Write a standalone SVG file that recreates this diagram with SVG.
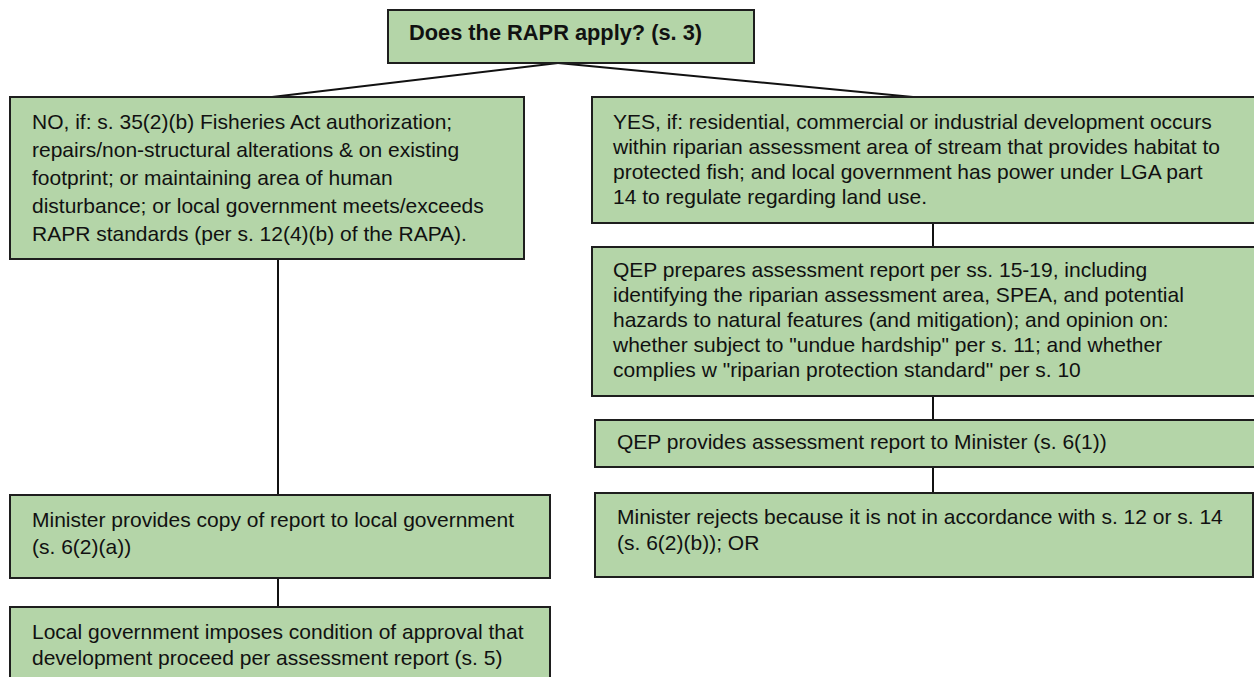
<svg xmlns="http://www.w3.org/2000/svg" width="1254" height="677" viewBox="0 0 1254 677">
<style>
.box{fill:#b4d5a8;stroke:#1e1e1e;stroke-width:2}
.t{font-family:"Liberation Sans",Arial,sans-serif;font-size:21px;fill:#111}
.b{font-weight:bold;font-size:21.8px}
.c{stroke:#111;stroke-width:2;fill:none}
</style>
<rect width="1254" height="677" fill="#fff"/>
<g id="connectors">
<line class="c" x1="558" y1="63" x2="272" y2="97"/>
<line class="c" x1="558" y1="63" x2="913" y2="97"/>
<line class="c" x1="278" y1="259" x2="278" y2="495"/>
<line class="c" x1="278" y1="578" x2="278" y2="607"/>
<line class="c" x1="933" y1="223" x2="933" y2="247"/>
<line class="c" x1="933" y1="396" x2="933" y2="420"/>
<line class="c" x1="933" y1="467" x2="933" y2="493"/>
</g>
<g id="n-top">
<rect class="box" x="388" y="10" width="366" height="53"/>
<text class="t b" x="409" y="40">Does the RAPR apply? (s. 3)</text>
</g>
<g id="n-no">
<rect class="box" x="10" y="97" width="514" height="162"/>
<text class="t" x="32" y="129">NO, if: s. 35(2)(b) Fisheries Act authorization;</text>
<text class="t" x="32" y="157">repairs/non-structural alterations &amp; on existing</text>
<text class="t" x="32" y="185">footprint; or maintaining area of human</text>
<text class="t" x="32" y="213">disturbance; or local government meets/exceeds</text>
<text class="t" x="32" y="241">RAPR standards (per s. 12(4)(b) of the RAPA).</text>
</g>
<g id="n-yes">
<rect class="box" x="592" y="97" width="670" height="126"/>
<text class="t" x="613" y="129">YES, if: residential, commercial or industrial development occurs</text>
<text class="t" x="613" y="154">within riparian assessment area of stream that provides habitat to</text>
<text class="t" x="613" y="179">protected fish; and local government has power under LGA part</text>
<text class="t" x="613" y="204">14 to regulate regarding land use.</text>
</g>
<g id="n-qep-prepares">
<rect class="box" x="592" y="247" width="670" height="149"/>
<text class="t" x="613" y="277">QEP prepares assessment report per ss. 15-19, including</text>
<text class="t" x="613" y="302">identifying the riparian assessment area, SPEA, and potential</text>
<text class="t" x="613" y="327">hazards to natural features (and mitigation); and opinion on:</text>
<text class="t" x="613" y="352">whether subject to "undue hardship" per s. 11; and whether</text>
<text class="t" x="613" y="377">complies w "riparian protection standard" per s. 10</text>
</g>
<g id="n-qep-provides">
<rect class="box" x="595" y="420" width="667" height="47"/>
<text class="t" x="617" y="449">QEP provides assessment report to Minister (s. 6(1))</text>
</g>
<g id="n-min-rejects">
<rect class="box" x="595" y="493" width="658" height="84"/>
<text class="t" x="617" y="524">Minister rejects because it is not in accordance with s. 12 or s. 14</text>
<text class="t" x="617" y="550">(s. 6(2)(b)); OR</text>
</g>
<g id="n-min-provides">
<rect class="box" x="10" y="495" width="540" height="83"/>
<text class="t" x="32" y="527">Minister provides copy of report to local government</text>
<text class="t" x="32" y="554">(s. 6(2)(a))</text>
</g>
<g id="n-local-gov">
<rect class="box" x="10" y="607" width="540" height="80"/>
<text class="t" x="32" y="639">Local government imposes condition of approval that</text>
<text class="t" x="32" y="665">development proceed per assessment report (s. 5)</text>
</g>
</svg>
